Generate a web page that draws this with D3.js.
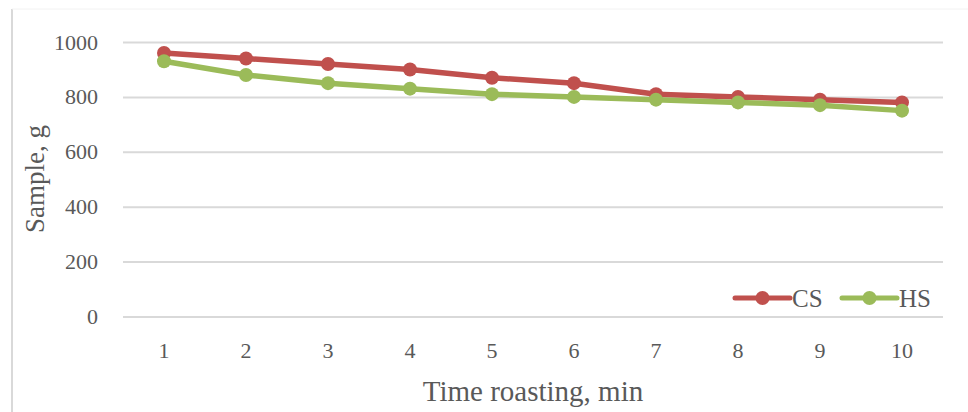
<!DOCTYPE html>
<html>
<head>
<meta charset="utf-8">
<script src="https://cdn.jsdelivr.net/npm/d3@7"></script>
<style>
  html, body { margin: 0; padding: 0; background: #fff; }
  svg { display: block; }
  text { font-family: "Liberation Serif", "DejaVu Serif", serif; fill: #595959; }
</style>
</head>
<body>
<svg id="chart" width="968" height="412"></svg>
<script>
// Roasting time (min) and sample mass (g) for the two series
const minutes = [1, 2, 3, 4, 5, 6, 7, 8, 9, 10];
const csValues = [960, 940, 920, 900, 870, 850, 810, 800, 790, 780];
const hsValues = [930, 880, 850, 830, 810, 800, 790, 780, 770, 750];
const seriesNames = ["CS", "HS"];
const seriesColors = ["#C0504D", "#9BBB59"];
const yTicks = [0, 200, 400, 600, 800, 1000];

const svg = d3.select("#chart");
const W = 968, H = 412;
const plot = { left: 123, right: 943, top: 42, bottom: 316.5 };
const FONT = "Liberation Serif, DejaVu Serif, serif";

// Outer chart frame
svg.append("line").attr("x1", 12).attr("x2", 12).attr("y1", 9).attr("y2", H)
  .attr("stroke", "#d9d9d9").attr("stroke-width", 2);
svg.append("line").attr("x1", 12).attr("x2", W).attr("y1", 9).attr("y2", 9)
  .attr("stroke", "#f2f2f2").attr("stroke-width", 1);

const x = d3.scaleBand().domain(minutes).range([plot.left, plot.right]);
const y = d3.scaleLinear().domain([0, 1000]).range([plot.bottom, plot.top]);

// Horizontal gridlines and y tick labels
const yAxis = d3.axisLeft(y).tickValues(yTicks).tickFormat(d3.format("d"))
  .tickSize(-(plot.right - plot.left)).tickPadding(25);
const gy = svg.append("g").attr("transform", `translate(${plot.left},0)`).call(yAxis);
gy.select(".domain").remove();
gy.selectAll(".tick line").attr("stroke", "#d9d9d9").attr("stroke-width", 2);
gy.selectAll(".tick text").attr("font-size", 22).attr("fill", "#595959")
  .style("font-family", FONT);

// Category axis labels
const xAxis = d3.axisBottom(x).tickSize(0).tickPadding(26);
const gx = svg.append("g").attr("transform", `translate(0,${plot.bottom})`).call(xAxis);
gx.select(".domain").remove();
gx.selectAll(".tick text").attr("font-size", 22).attr("fill", "#595959")
  .style("font-family", FONT);

// Axis titles
svg.append("text").attr("x", 533).attr("y", 401)
  .attr("text-anchor", "middle").attr("font-size", 29).text("Time roasting, min");
svg.append("text").attr("transform", "translate(44,179) rotate(-90)")
  .attr("text-anchor", "middle").attr("font-size", 27).text("Sample, g");

// Series lines with markers
const series = [csValues, hsValues];
const cx = d => x(d) + x.bandwidth() / 2;
const line = d3.line().x((d, i) => cx(minutes[i])).y(d => y(d));

series.forEach((vals, s) => {
  svg.append("path").datum(vals).attr("d", line)
    .attr("fill", "none").attr("stroke", seriesColors[s])
    .attr("stroke-width", 5.5).attr("stroke-linejoin", "round").attr("stroke-linecap", "round");
  svg.append("g").selectAll("circle").data(vals).join("circle")
    .attr("cx", (d, i) => cx(minutes[i])).attr("cy", d => y(d))
    .attr("r", 7).attr("fill", seriesColors[s]);
});

// Legend
const legend = svg.append("g").attr("transform", "translate(0,298)");
const legendX = [735, 842];
seriesNames.forEach((name, s) => {
  const g = legend.append("g").attr("transform", `translate(${legendX[s]},0)`);
  g.append("line").attr("x1", 0).attr("x2", 55).attr("y1", 0).attr("y2", 0)
    .attr("stroke", seriesColors[s]).attr("stroke-width", 5).attr("stroke-linecap", "round");
  g.append("circle").attr("cx", 27.5).attr("cy", 0).attr("r", 7).attr("fill", seriesColors[s]);
  g.append("text").attr("x", 57).attr("y", 0).attr("dy", "0.35em")
    .attr("font-size", 25).text(name);
});
</script>
</body>
</html>
